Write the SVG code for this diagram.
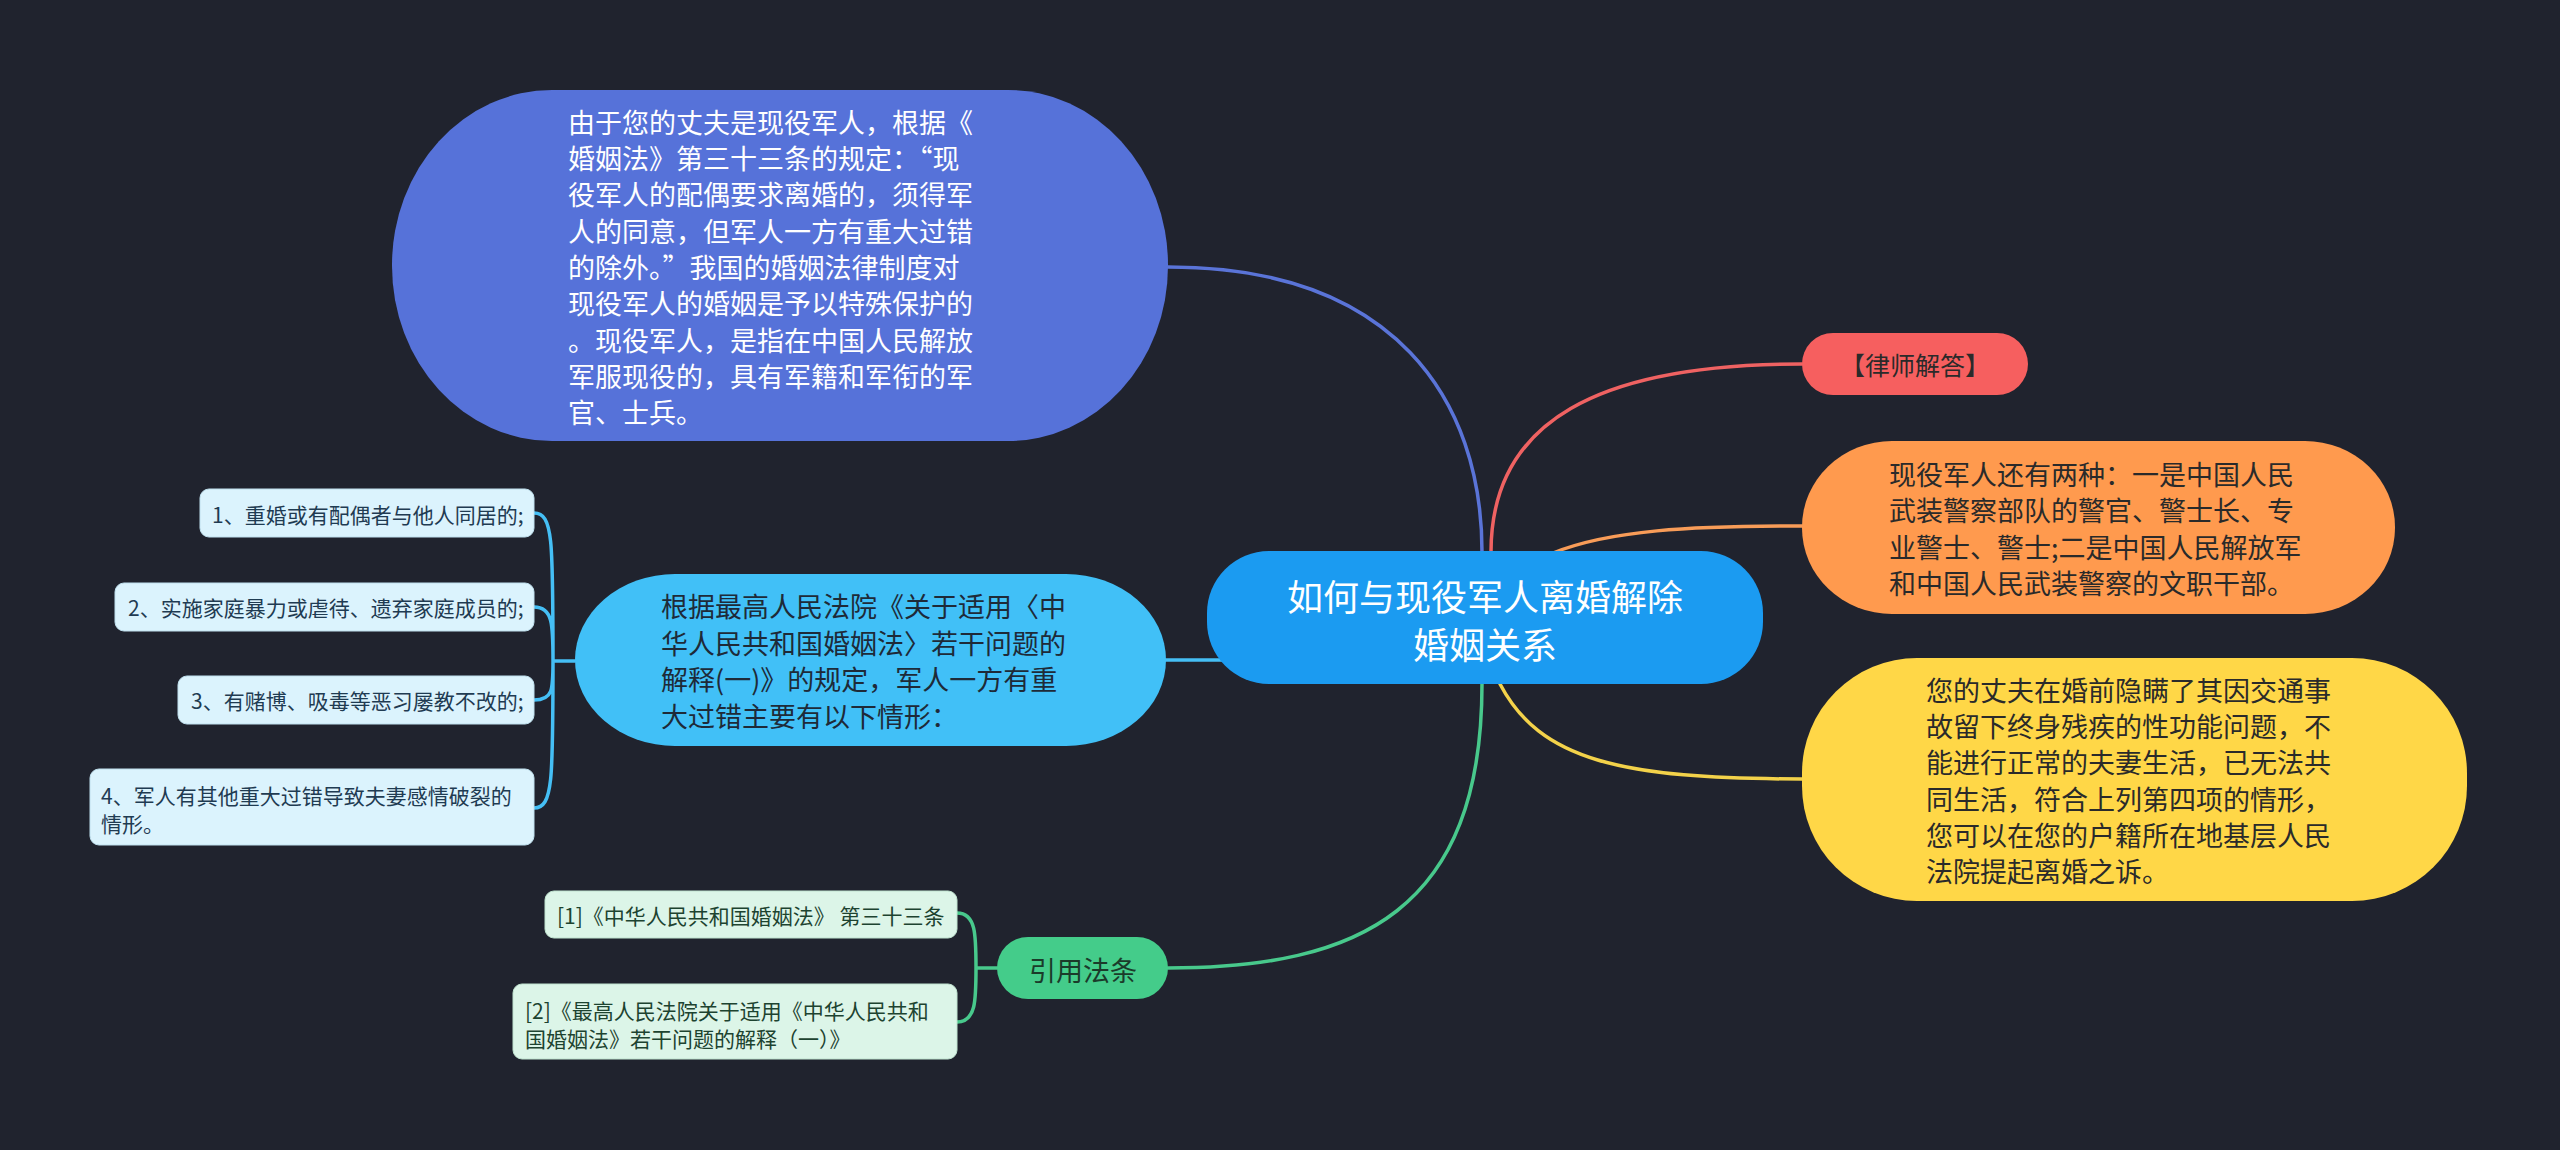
<svg xmlns="http://www.w3.org/2000/svg" width="2560" height="1150" viewBox="0 0 2560 1150">
<style>
text{font-family:"Noto Sans CJK SC","Noto Sans",sans-serif;dominant-baseline:central}
.conn path{fill:none;stroke-width:3.5;stroke-linecap:round}
.w{fill:#ffffff}
.d{fill:#2a2a2a}
.sub{fill:#dbf3fd;stroke:#bfe0ee;stroke-width:1}
.subt{fill:#1f3b52;font-size:21px}
.cit{fill:#dcf5e8;stroke:#bfe3cf;stroke-width:1}
.citt{fill:#1d4330;font-size:21px}
</style>
<rect x="0" y="0" width="2560" height="1150" fill="#20232e"/>
<g id="connectors" class="conn">
<path d="M1482,552 C1482,400 1395,267 1168,267" stroke="#5a74d8"/>
<path d="M1491,552 C1491,420 1600,364 1802,364" stroke="#ef6262"/>
<path d="M1553,553 C1610,530 1690,526 1802,526" stroke="#f89c58"/>
<path d="M1500,684 C1540,760 1620,779 1802,779" stroke="#f3d24a"/>
<path d="M1482,684 C1482,910 1360,968 1168,968" stroke="#48c98c"/>
<path d="M1164,660 L1226,660" stroke="#45bff5"/>
<path d="M575,661 L553,661 M553,661 C553,540 553,513 534,513 M553,661 C553,625 553,607 534,607 M553,661 C553,690 553,700 534,700 M553,661 C553,780 553,808 534,808" stroke="#45bff5"/>
<path d="M997,968 L976,968 M976,968 C976,935 976,913 957,913 M976,968 C976,1000 976,1022 957,1022" stroke="#48c98c"/>
</g>
<g id="node-center">
<rect x="1207" y="551" width="556" height="133" rx="62" ry="62" fill="#1b9bf1"/>
<text x="1485" y="595" font-size="36" text-anchor="middle" class="w">如何与现役军人离婚解除</text>
<text x="1485" y="643" font-size="36" text-anchor="middle" class="w">婚姻关系</text>
</g>
<g id="node-explain" font-size="27">
<rect x="392" y="90" width="776" height="351" rx="160" ry="175" fill="#5672d9"/>
<text x="568" y="121" class="w">由于您的丈夫是现役军人，根据《</text>
<text x="568" y="157" class="w">婚姻法》第三十三条的规定：“现</text>
<text x="568" y="193" class="w">役军人的配偶要求离婚的，须得军</text>
<text x="568" y="230" class="w">人的同意，但军人一方有重大过错</text>
<text x="568" y="266" class="w">的除外。”我国的婚姻法律制度对</text>
<text x="568" y="302" class="w">现役军人的婚姻是予以特殊保护的</text>
<text x="568" y="339" class="w">。现役军人，是指在中国人民解放</text>
<text x="568" y="375" class="w">军服现役的，具有军籍和军衔的军</text>
<text x="568" y="411" class="w">官、士兵。</text>
</g>
<g id="node-lawyer">
<rect x="1802" y="333" width="226" height="62" rx="31" ry="31" fill="#f65f5f"/>
<text x="1915" y="364" font-size="25" text-anchor="middle" class="d">【律师解答】</text>
</g>
<g id="node-types" font-size="27">
<rect x="1802" y="441" width="593" height="173" rx="90" ry="86" fill="#ff9a4e"/>
<text x="1889" y="473" class="d">现役军人还有两种：一是中国人民</text>
<text x="1889" y="509" class="d">武装警察部队的警官、警士长、专</text>
<text x="1889" y="546" class="d">业警士、警士;二是中国人民解放军</text>
<text x="1889" y="582" class="d">和中国人民武装警察的文职干部。</text>
</g>
<g id="node-case" font-size="27">
<rect x="1802" y="658" width="665" height="243" rx="115" ry="115" fill="#ffd747"/>
<text x="1926" y="689" class="d">您的丈夫在婚前隐瞒了其因交通事</text>
<text x="1926" y="725" class="d">故留下终身残疾的性功能问题，不</text>
<text x="1926" y="761" class="d">能进行正常的夫妻生活，已无法共</text>
<text x="1926" y="798" class="d">同生活，符合上列第四项的情形，</text>
<text x="1926" y="834" class="d">您可以在您的户籍所在地基层人民</text>
<text x="1926" y="870" class="d">法院提起离婚之诉。</text>
</g>
<g id="node-interpretation" font-size="27">
<rect x="575" y="574" width="591" height="172" rx="100" ry="86" fill="#41c0f7"/>
<text x="661" y="605" fill="#1e2a38">根据最高人民法院《关于适用〈中</text>
<text x="661" y="642" fill="#1e2a38">华人民共和国婚姻法〉若干问题的</text>
<text x="661" y="678" fill="#1e2a38">解释(一)》的规定，军人一方有重</text>
<text x="661" y="715" fill="#1e2a38">大过错主要有以下情形：</text>
</g>
<g id="node-item1">
<rect x="200" y="489" width="334" height="48" rx="9" class="sub"/>
<text x="212" y="514" class="subt">1、重婚或有配偶者与他人同居的;</text>
</g>
<g id="node-item2">
<rect x="115" y="583" width="419" height="48" rx="9" class="sub"/>
<text x="128" y="607" class="subt">2、实施家庭暴力或虐待、遗弃家庭成员的;</text>
</g>
<g id="node-item3">
<rect x="178" y="676" width="356" height="48" rx="9" class="sub"/>
<text x="191" y="700" class="subt">3、有赌博、吸毒等恶习屡教不改的;</text>
</g>
<g id="node-item4">
<rect x="90" y="769" width="444" height="76" rx="9" class="sub"/>
<text x="101" y="795" class="subt">4、军人有其他重大过错导致夫妻感情破裂的</text>
<text x="101" y="823" class="subt">情形。</text>
</g>
<g id="node-cite">
<rect x="997" y="937" width="171" height="62" rx="31" ry="31" fill="#44cc8a"/>
<text x="1083" y="969" font-size="27" text-anchor="middle" fill="#1b3b2a">引用法条</text>
</g>
<g id="node-cite1">
<rect x="545" y="891" width="412" height="47" rx="9" class="cit"/>
<text x="557" y="915" class="citt">[1]《中华人民共和国婚姻法》 第三十三条</text>
</g>
<g id="node-cite2">
<rect x="513" y="984" width="444" height="75" rx="9" class="cit"/>
<text x="525" y="1010" class="citt">[2]《最高人民法院关于适用《中华人民共和</text>
<text x="525" y="1038" class="citt">国婚姻法》若干问题的解释（一）》</text>
</g>
</svg>
